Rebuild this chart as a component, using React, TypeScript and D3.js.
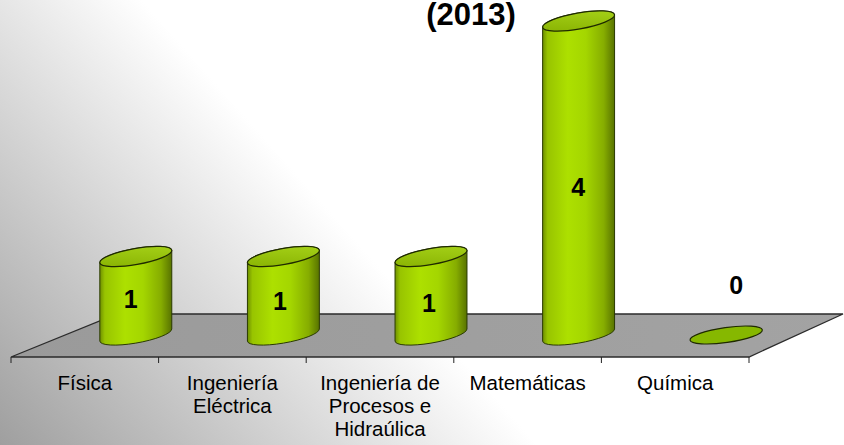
import React from "react";
import * as d3 from "d3";

const categories = ["Física", "Ingeniería Eléctrica", "Ingeniería de Procesos e Hidraúlica", "Matemáticas", "Química"];
const values = [1, 1, 1, 4, 0];
const labelLines = [["Física"], ["Ingeniería", "Eléctrica"], ["Ingeniería de", "Procesos e", "Hidraúlica"], ["Matemáticas"], ["Química"]];
const titleText = "(2013)";

const W = 844;
const H = 445;
const FONT = "'Liberation Sans', Arial, sans-serif";

export default function App() {
  const x = d3.scaleBand<string>().domain(categories).range([11, 749]).padding(0);
  const y = d3.scaleLinear().domain([0, 4]).range([335, 21]);
  const floorFront = 357;
  const floorBack = 314;
  const depthDx = 51;
  const rx = 36.5;
  const ry = 8;
  const rotDeg = -10;
  const th = (rotDeg * Math.PI) / 180;

  const pt = (cx: number, cy: number, t: number) => [
    cx + rx * Math.cos(t) * Math.cos(th) - ry * Math.sin(t) * Math.sin(th),
    cy + rx * Math.cos(t) * Math.sin(th) + ry * Math.sin(t) * Math.cos(th),
  ];
  const t0 = Math.atan(-(ry * Math.sin(th)) / (rx * Math.cos(th)));
  const tangents = (cx: number, cy: number) => {
    const a = pt(cx, cy, t0);
    const b = pt(cx, cy, t0 + Math.PI);
    return a[0] < b[0] ? [a, b] : [b, a];
  };

  const floorPath = `M11,${floorFront} L749,${floorFront} L843,${floorBack} L117,${floorBack} Z`;
  const ticks = d3.range(categories.length + 1).map((i) => 11 + i * x.bandwidth());

  return (
    <svg width={W} height={H} style={{ position: "fixed", left: 0, top: 0 }} fontFamily={FONT}>
      <defs>
        <linearGradient id="bg" gradientUnits="userSpaceOnUse" x1={0} y1={445} x2={500} y2={0}>
          <stop offset="0" stopColor="#9f9f9f" />
          <stop offset="0.6" stopColor="#ffffff" />
          <stop offset="1" stopColor="#ffffff" />
        </linearGradient>
        <linearGradient id="floor" x1="0" y1="0" x2="1" y2="0">
          <stop offset="0" stopColor="#9a9a9a" />
          <stop offset="1" stopColor="#a3a3a3" />
        </linearGradient>
        <linearGradient id="body" x1="0" y1="0" x2="1" y2="0">
          <stop offset="0" stopColor="#6f9000" />
          <stop offset="0.07" stopColor="#98c400" />
          <stop offset="0.35" stopColor="#ade000" />
          <stop offset="0.6" stopColor="#a4d600" />
          <stop offset="0.85" stopColor="#86ad00" />
          <stop offset="1" stopColor="#587300" />
        </linearGradient>
        <linearGradient id="top" x1="0" y1="1" x2="1" y2="0">
          <stop offset="0" stopColor="#86b000" />
          <stop offset="1" stopColor="#a8d41a" />
        </linearGradient>
      </defs>
      <rect x={0} y={0} width={W} height={H} fill="url(#bg)" />
      <text x={471} y={25} textAnchor="middle" fontWeight="bold" fontSize={31} fill="#000">
        {titleText}
      </text>
      <path d={floorPath} fill="url(#floor)" stroke="#2b2b2b" strokeWidth={1.3} />
      {ticks.map((tx, i) => (
        <line key={i} x1={tx} x2={tx} y1={floorFront} y2={floorFront + 6} stroke="#222" strokeWidth={1} />
      ))}
      {categories.map((c, i) => {
        const cx = (x(c) as number) + x.bandwidth() / 2 + depthDx;
        const yb = y(0);
        const yt = y(values[i]);
        const [lb, rb] = tangents(cx, yb);
        const [lt, rt] = tangents(cx, yt);
        const body =
          `M${lt[0]},${lt[1]} L${lb[0]},${lb[1]} ` +
          `A${rx},${ry} ${rotDeg} 0 0 ${rb[0]},${rb[1]} ` +
          `L${rt[0]},${rt[1]} A${rx},${ry} ${rotDeg} 0 0 ${lt[0]},${lt[1]} Z`;
        return (
          <g key={c}>
            {values[i] > 0 && <path d={body} fill="url(#body)" stroke="#2a3a00" strokeWidth={1} />}
            <ellipse
              cx={cx}
              cy={yt}
              rx={rx}
              ry={values[i] > 0 ? ry : 7.5}
              transform={`rotate(${values[i] > 0 ? rotDeg : -8} ${cx} ${yt})`}
              fill={values[i] > 0 ? "url(#top)" : "#86b800"}
              stroke="#1f2a00"
              strokeWidth={1.2}
            />
          </g>
        );
      })}
      {categories.map((c, i) => {
        const cx = (x(c) as number) + x.bandwidth() / 2 + depthDx;
        const v = values[i];
        const ly = v > 0 ? (y(0) + y(v)) / 2 + 12 + i * 2 : y(0) - 41;
        const lx = v > 0 ? cx - 5 + i * 1.5 : cx + 10;
        return (
          <text key={c} x={lx} y={ly} textAnchor="middle" fontWeight="bold" fontSize={25} fill="#000">
            {v}
          </text>
        );
      })}
      {categories.map((c, i) => {
        const lx = (x(c) as number) + x.bandwidth() / 2;
        return (
          <text key={c} x={lx} y={390} textAnchor="middle" fontSize={20.5} fill="#000">
            {labelLines[i].map((ln, j) => (
              <tspan key={j} x={lx} y={390 + j * 23}>
                {ln}
              </tspan>
            ))}
          </text>
        );
      })}
    </svg>
  );
}
